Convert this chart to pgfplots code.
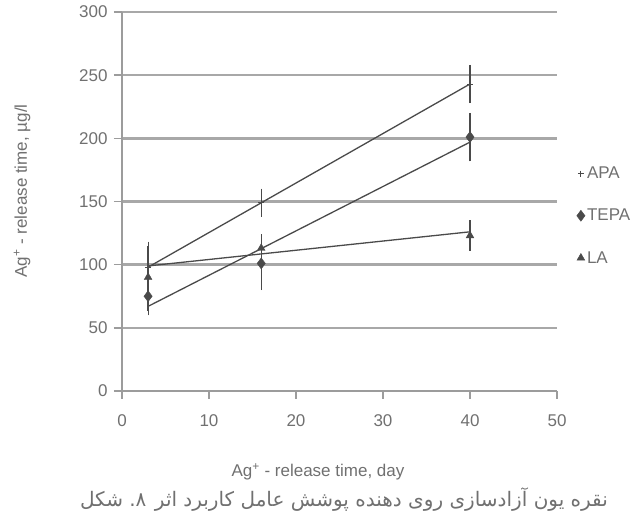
\documentclass[border=0pt]{standalone}
\usepackage{fontspec}
\setmainfont{Liberation Sans}
\newfontfamily\arabicfont[Script=Arabic]{DejaVu Sans}
\TeXXeTstate=1
\usepackage{pgfplots}
\pgfplotsset{compat=1.18}
\definecolor{gridc}{HTML}{A8A8A8}
\definecolor{axc}{HTML}{9C9C9C}
\definecolor{linec}{HTML}{4A4A4A}
\definecolor{txtc}{HTML}{707070}
\newcommand{\rw}[1]{\beginR #1\endR}
\begin{document}
\begin{tikzpicture}
\path[use as bounding box] (-122pt,-130pt) rectangle (514pt,391pt);
\begin{axis}[
  at={(0pt,0pt)}, anchor=south west,
  scale only axis, width=435pt, height=379pt,
  xmin=0, xmax=50, ymin=0, ymax=300,
  xtick={0,10,...,50}, ytick={0,50,...,300},
  axis x line*=bottom, axis y line*=left,
  axis line style={axc, line width=2pt, -},
  ymajorgrids, grid style={gridc, line width=2.4pt},
  tick align=outside, major tick length=8pt,
  tick style={axc, line width=1.6pt},
  /pgf/number format/assume math mode=true,
  tick label style={font=\fontsize{17}{20}\selectfont, text=txtc},
  xticklabel style={yshift=-12pt},
  yticklabel style={xshift=-3pt},
  clip=false,
  legend style={draw=none, fill=none, at={(1.045,0.597)}, anchor=north west,
    font=\fontsize{17}{20}\selectfont, text=txtc, row sep=25pt,
    inner sep=0pt, cells={anchor=west}},
  legend image code/.code={\draw[#1] plot coordinates {(0.12cm,0cm)};},
]
% trend lines
\addplot[linec, line width=1.3pt, forget plot] coordinates {(3,98) (40,243)};
\addplot[linec, line width=1.3pt, forget plot] coordinates {(3,67) (40,197)};
\addplot[linec, line width=1.3pt, forget plot] coordinates {(3,99) (40,126)};
% data with error bars
\addplot[only marks, mark=+, mark size=3pt, linec, line width=1pt,
  error bars/.cd, y dir=both, y explicit, error mark=-,
  error bar style={linec, line width=1.2pt}, error mark options={linec, mark size=4pt, line width=1.2pt}]
  coordinates {(3,98) +- (0,17) (16,149) +- (0,8) (40,243) +- (0,12)};
\addlegendentry{APA}
\addplot[only marks, mark=diamond*, mark size=5.5pt, linec, fill=linec,
  error bars/.cd, y dir=both, y explicit, error mark=-,
  error bar style={linec, line width=1.2pt}, error mark options={linec, mark size=4pt, line width=1.2pt}]
  coordinates {(3,75) +- (0,12) (16,101) +- (0,18) (40,201) +- (0,16)};
\addlegendentry{TEPA}
\addplot[only marks, mark=triangle*, mark size=4.5pt, linec, fill=linec,
  error bars/.cd, y dir=both, y explicit, error mark=-,
  error bar style={linec, line width=1.2pt}, error mark options={linec, mark size=4pt, line width=1.2pt}]
  coordinates {(3,90) +- (0,10) (16,113) +- (0,8) (40,123) +- (0,9)};
\addlegendentry{LA}
\end{axis}
\node[rotate=90, text=txtc, font=\fontsize{17}{20}\selectfont] at (-100pt,200pt) {Ag\textsuperscript{+} - release time, µg/l};
\node[text=txtc, font=\fontsize{17}{20}\selectfont] at (196pt,-81pt) {Ag\textsuperscript{+} - release time, day};
\node[text=txtc, font=\fontsize{20}{24}\selectfont] at (222pt,-109pt) {\arabicfont \rw{شکل} \rw{۸.} \rw{اثر} \rw{کاربرد} \rw{عامل} \rw{پوشش} \rw{دهنده} \rw{روی} \rw{آزادسازی} \rw{یون} \rw{نقره}};
\end{tikzpicture}
\end{document}
